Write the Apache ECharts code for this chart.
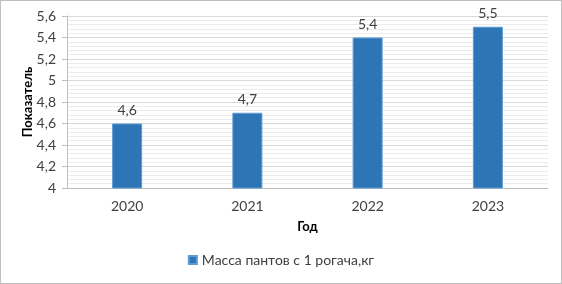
<!DOCTYPE html>
<html><head><meta charset="utf-8">
<style>html,body{margin:0;padding:0;background:#fff}
#c{position:absolute;left:0;top:0;width:560px;height:282px;border:1px solid #bfbfbf}</style>
<script src="https://cdn.jsdelivr.net/npm/echarts@6/dist/echarts.min.js"></script>
</head><body><div id="c"></div>
<script>
const categories = ['2020','2021','2022','2023'];
const values = [4.6, 4.7, 5.4, 5.5];
const seriesName = 'Масса пантов с 1 рогача,кг';
const xName = 'Год';
const yName = 'Показатель';
const fmt = v => String(+(+v).toFixed(2)).replace('.', ',');
const chart = echarts.init(document.getElementById('c'));
const F = 'Lato, "Open Sans", sans-serif';
chart.setOption({
  animation:false,
  textStyle:{fontFamily:F},
  grid:{left:66,right:13,top:15,bottom:95,containLabel:false},
  legend:{bottom:11,left:'center',itemWidth:8,itemHeight:8,icon:'rect',itemGap:6,
    textStyle:{color:'#404040',fontSize:14,fontFamily:F},data:[seriesName]},
  xAxis:{type:'category',data:categories,name:xName,nameLocation:'middle',nameGap:32,nameMoveOverlap:false,
    nameTextStyle:{fontWeight:'bold',fontSize:13,color:'#000',fontFamily:F},
    axisLine:{lineStyle:{color:'#bfbfbf'}},axisTick:{show:false},
    axisLabel:{color:'#404040',fontSize:14,margin:11,fontFamily:F}},
  yAxis:{type:'value',min:4,max:5.6,interval:0.2,name:yName,nameLocation:'middle',nameGap:33,nameMoveOverlap:false,
    nameTextStyle:{fontWeight:'bold',fontSize:13,color:'#000',fontFamily:F},
    axisLine:{show:true,lineStyle:{color:'#bfbfbf'}},
    axisTick:{show:true,inside:false,length:5,lineStyle:{color:'#bfbfbf'}},
    axisLabel:{color:'#404040',fontSize:14,margin:11,formatter:fmt,fontFamily:F},
    splitLine:{lineStyle:{color:'#d9d9d9'}},
    minorTick:{show:false,splitNumber:5},
    minorSplitLine:{show:true,lineStyle:{color:'#ececec'}}},
  series:[{type:'bar',name:seriesName,data:values,barWidth:30,
    itemStyle:{color:'#2e75b6',borderColor:'#5b9bd5',borderWidth:1},
    label:{show:true,position:'top',distance:6,color:'#404040',fontSize:14,formatter:p=>fmt(p.value),fontFamily:F}}]
});
</script></body></html>
